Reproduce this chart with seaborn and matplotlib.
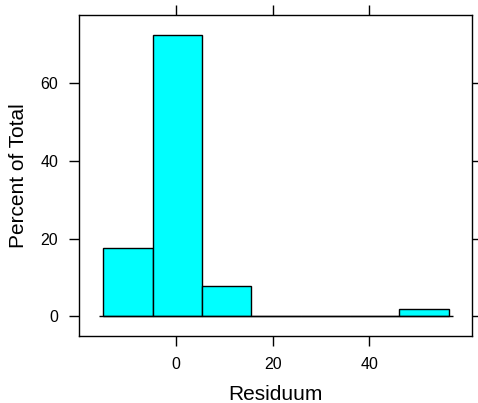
import matplotlib
matplotlib.use("Agg")
import matplotlib.pyplot as plt
import seaborn as sns
import numpy as np

# Data: histogram of residuals (counts per bin, n = 51)
bin_edges = [-15.0, -4.8, 5.4, 15.6, 25.8, 36.0, 46.2, 56.4]
bin_counts = [9, 37, 4, 0, 0, 0, 1]
x_ticks = [0, 20, 40]
y_ticks = [0, 20, 40, 60]

sns.set_theme(style="white")
plt.rcParams['font.family'] = ['Liberation Sans', 'DejaVu Sans']
plt.rcParams['text.color'] = 'black'
plt.rcParams['axes.labelcolor'] = 'black'
plt.rcParams['xtick.color'] = 'black'
plt.rcParams['ytick.color'] = 'black'

centers = [(a + b) / 2 for a, b in zip(bin_edges[:-1], bin_edges[1:])]

fig = plt.figure(figsize=(4.78, 4.03), dpi=100)
ax = fig.add_axes([79 / 478, 1 - 336 / 403, (472 - 79) / 478, (336 - 14.7) / 403])

sns.histplot(x=centers, weights=bin_counts, bins=bin_edges, stat="percent",
             color="#00FFFF", edgecolor="black", linewidth=1.0, alpha=1.0, ax=ax)
# baseline line for empty bins
ax.hlines(0, bin_edges[0] - 0.9, bin_edges[-1] + 0.9, color="black", linewidth=1.0, zorder=3)

ax.set_xlim(-20.06, 61.2)
ax.set_ylim(-5.08, 77.7)
ax.set_xticks(x_ticks)
ax.set_yticks(y_ticks)
ax.set_xlabel("Residuum", fontsize=15, labelpad=9.5, color="black")
ax.set_ylabel("Percent of Total", fontsize=15, labelpad=9, color="black")
ax.tick_params(axis="both", which="both", direction="out", length=7, width=1,
               color="black", labelcolor="black", labelsize=11.5, pad=8,
               top=True, right=True, bottom=True, left=True,
               labeltop=False, labelright=False)
for s in ax.spines.values():
    s.set_visible(True)
    s.set_color("black")
    s.set_linewidth(1.0)
ax.grid(False)

fig.savefig("out.png", dpi=100)
